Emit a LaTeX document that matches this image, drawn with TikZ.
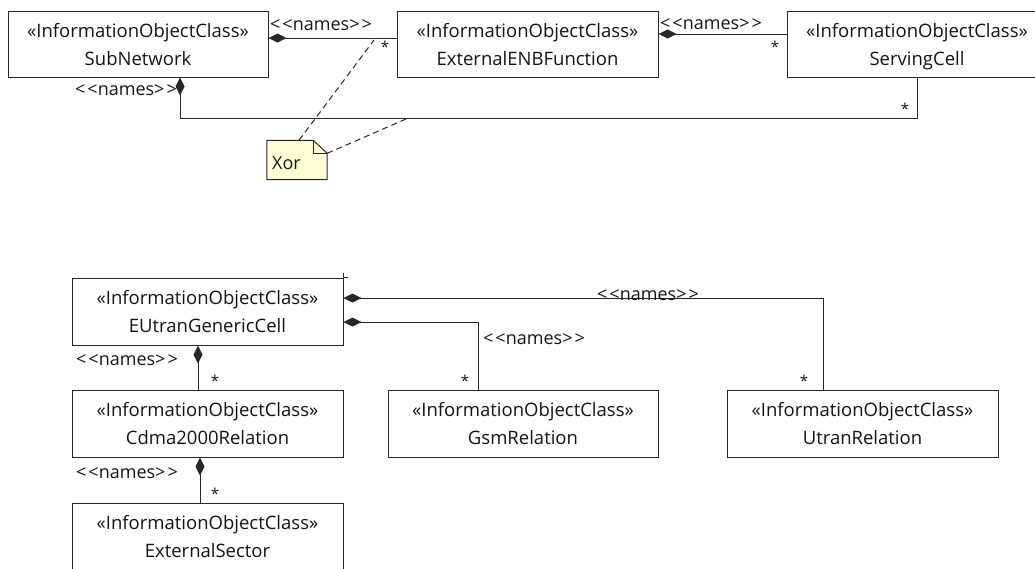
\documentclass[tikz,border=0pt]{standalone}
\usepackage{fontspec}
\setmainfont{Open Sans}
\usetikzlibrary{arrows.meta,backgrounds}
\definecolor{ln}{RGB}{40,40,40}
\definecolor{notefill}{RGB}{255,253,214}
\begin{document}
\begin{tikzpicture}[x=1pt,y=-1pt,
  every node/.style={font=\fontsize{18.5}{28}\selectfont, text=black!92},
  cls/.style={draw=ln, line width=1pt, rectangle, align=center, minimum height=66pt, inner sep=0pt, text depth=-5pt},
  conn/.style={draw=ln, line width=1pt},
  comp/.style={conn, {Diamond[length=18pt,width=9pt]}-},
  lbl/.style={inner sep=0pt, font=\fontsize{18}{20}\selectfont},
  mult/.style={inner sep=0pt, font=\fontsize{15}{16}\selectfont},
  notelink/.style={draw=ln, line width=1pt, dash pattern=on 6pt off 4pt}
]
\useasboundingbox (0,0) rectangle (1035,568);
\clip (0,0) rectangle (1035,568);

% top classes
\node[cls, minimum width=260pt] (sub) at (138,44) {«InformationObjectClass»\\SubNetwork};
\node[cls, minimum width=261pt] (ext) at (527.5,44) {«InformationObjectClass»\\ExternalENBFunction};
\node[cls, minimum width=260pt] (serv) at (917,44) {«InformationObjectClass»\\ServingCell};

% bottom classes
\node[cls, minimum width=271pt, minimum height=67pt] (eut) at (207.5,311.5) {«InformationObjectClass»\\EUtranGenericCell};
\node[cls, minimum width=271pt, minimum height=67pt] (cdma) at (207.5,423.5) {«InformationObjectClass»\\Cdma2000Relation};
\node[cls, minimum width=270pt, minimum height=67pt] (gsm) at (523,423.5) {«InformationObjectClass»\\GsmRelation};
\node[cls, minimum width=271pt, minimum height=67pt] (utran) at (862.5,423.5) {«InformationObjectClass»\\UtranRelation};
\node[cls, minimum width=271pt, minimum height=67pt] (exts) at (207.5,536.5) {«InformationObjectClass»\\ExternalSector};

% top connectors
\draw[comp] ([yshift=6pt]sub.east) -- ([yshift=6pt]ext.west);
\draw[comp] ([yshift=10pt]ext.east) -- ([yshift=10pt]serv.west);
\draw[comp] ([xshift=42pt]sub.south) -- ++(0,41) -| (serv.south);

\node[lbl] (l1) at (321,25) {<\kern2pt<names>\kern2pt>};
\node[mult] (m1) at (385,47) {*};
\node[lbl] (l2) at (711,24) {<\kern2pt<names>\kern2pt>};
\node[mult] (m2) at (775,47) {*};
\node[lbl] (l3) at (126,90) {<\kern2pt<names>\kern2pt>};
\node[mult] (m3) at (905,109) {*};

% Xor note
\node[inner sep=0pt, minimum width=60pt, minimum height=39pt] (xor) at (297,160) {};
\node[inner sep=0pt, anchor=west, font=\fontsize{18}{20}\selectfont] (xort) at (272,163) {Xor};
\begin{scope}[on background layer]
\filldraw[draw=ln, fill=notefill, line width=1pt]
  (xor.south west) -- (xor.north west) -- ([xshift=-14pt]xor.north east)
  -- ([yshift=-13pt]xor.north east) -- (xor.south east) -- cycle;
\draw[ln, line width=1pt] ([xshift=-14pt]xor.north east) |- ([yshift=-13pt]xor.north east);
\end{scope}
\coordinate (xa) at (374,40);
\coordinate (xb) at (406,119);
\draw[notelink] ([xshift=2pt]xor.north) -- (xa);
\draw[notelink] ([yshift=-13pt]xor.north east) -- (xb);

% bottom connectors
\draw[comp] ([yshift=13.5pt]eut.east) -| ([xshift=-39.5pt]utran.north);
\draw[comp] ([yshift=-10.5pt]eut.east) -| ([xshift=-45pt]gsm.north);
\draw[comp] ([xshift=-9.5pt]eut.south) -- ([xshift=-9.5pt]cdma.north);
\draw[comp] ([xshift=-7.5pt]cdma.south) -- ([xshift=-7.5pt]exts.north);
\draw[ln, line width=1pt] ([yshift=5pt]eut.north east) -- ([yshift=-5pt]eut.north east);
\draw[ln, line width=1pt] (eut.north east) -- ++(4,0);

\node[lbl] (l4) at (648,295) {<\kern2pt<names>\kern2pt>};
\node[mult] (m4) at (804,381) {*};
\node[lbl] (l5) at (534,339) {<\kern2pt<names>\kern2pt>};
\node[mult] (m5) at (465,381) {*};
\node[lbl] (l6) at (127,360) {<\kern2pt<names>\kern2pt>};
\node[mult] (m6) at (215,381) {*};
\node[lbl] (l7) at (127,473) {<\kern2pt<names>\kern2pt>};
\node[mult] (m7) at (215,494) {*};
\end{tikzpicture}
\end{document}
